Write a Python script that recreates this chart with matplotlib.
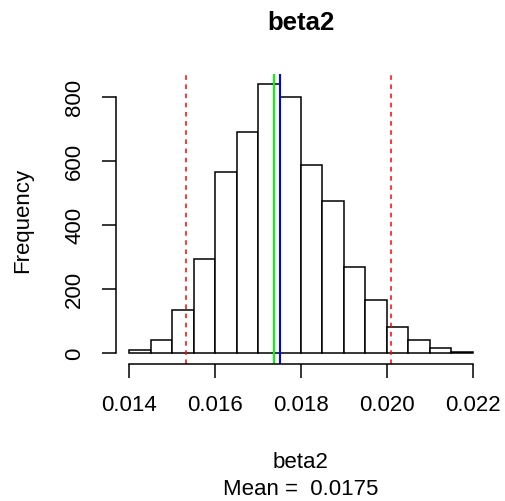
"""Histogram of posterior draws for beta2, with interval, median and mean markers (R hist look)."""

import matplotlib

matplotlib.use("Agg")
import matplotlib.pyplot as plt  # noqa: E402
import numpy as np  # noqa: E402

# bins of width 0.0005 from 0.014 to 0.022, counts
bin_edges = [0.0140, 0.0145, 0.0150, 0.0155, 0.0160, 0.0165, 0.0170, 0.0175, 0.0180,
             0.0185, 0.0190, 0.0195, 0.0200, 0.0205, 0.0210, 0.0215, 0.0220]
counts = [10, 42, 134, 294, 565, 690, 839, 800, 586, 476, 268, 165, 82, 42, 16, 2]

interval = [0.01533, 0.02009]   # red dashed
median_val = 0.01737            # green
mean_val = 0.01751              # blue

x_ticks = [0.014, 0.016, 0.018, 0.020, 0.022]
x_tick_labels = ["0.014", "0.016", "0.018", "0.020", "0.022"]
y_ticks = [0, 200, 400, 600, 800]

W, H = 506, 502
FS = 16
plt.rcParams["font.family"] = ["Liberation Sans", "DejaVu Sans"]


def main():
    fig = plt.figure(figsize=(W / 100, H / 100), dpi=100, facecolor="white")
    left, right, top, bottom = 115.6, 486.4, 74.5, 364.75
    ax = fig.add_axes([left / W, 1 - bottom / H, (right - left) / W, (bottom - top) / H])

    edges = np.array(bin_edges)
    ax.bar(edges[:-1], counts, width=np.diff(edges), align="edge",
           facecolor="white", edgecolor="black", linewidth=1.1)

    ax.axvline(interval[0], color="#ff0000", lw=1.1, ls=(0, (3, 3)))
    ax.axvline(interval[1], color="#ff0000", lw=1.1, ls=(0, (3, 3)))
    ax.axvline(median_val, color="#00ff00", lw=1.5)
    ax.axvline(mean_val, color="#0000ff", lw=1.5)

    xr = edges[-1] - edges[0]
    ax.set_xlim(edges[0] - 0.04 * xr, edges[-1] + 0.04 * xr)
    ymax = max(counts)
    ax.set_ylim(-0.04 * ymax, 1.04 * ymax)

    for s in ("top", "right"):
        ax.spines[s].set_visible(False)
    ax.spines["left"].set_bounds(y_ticks[0], y_ticks[-1])
    ax.spines["bottom"].set_bounds(x_ticks[0], x_ticks[-1])
    for s in ("left", "bottom"):
        ax.spines[s].set_linewidth(1.1)

    ax.set_xticks(x_ticks, x_tick_labels)
    ax.set_yticks(y_ticks, [str(v) for v in y_ticks])
    ax.tick_params(axis="x", length=10, width=1.1, pad=12, labelsize=FS)
    ax.tick_params(axis="y", length=10, width=1.1, pad=12, labelsize=FS)
    for lab in ax.get_yticklabels():
        lab.set_rotation(90)
        lab.set_va("center")

    fig.text(301 / W, 1 - 30 / H, "beta2", ha="center", va="baseline",
             fontsize=18.5, weight="bold")
    fig.text(301 / W, 1 - 468 / H, "beta2", ha="center", va="baseline", fontsize=FS)
    fig.text(301 / W, 1 - 495 / H, "Mean =  0.0175", ha="center", va="baseline", fontsize=FS)
    fig.text(22.5 / W, 1 - 220 / H, "Frequency", ha="center", va="center",
             rotation=90, fontsize=FS)

    fig.savefig("out.png", dpi=100, facecolor="white")
    plt.close(fig)


if __name__ == "__main__":
    main()
